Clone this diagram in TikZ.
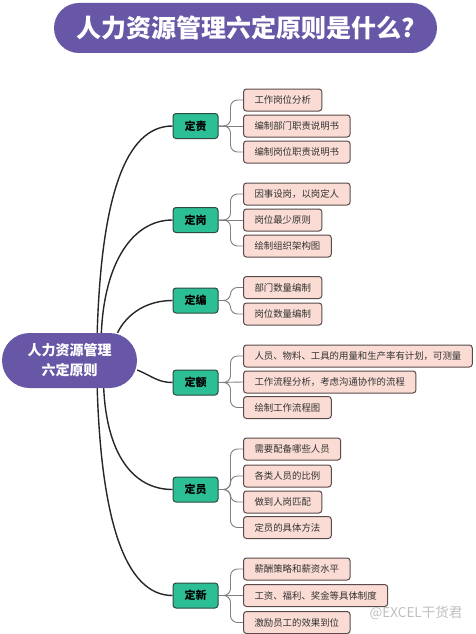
\documentclass[tikz,border=0pt]{standalone}
\usepackage{fontspec}
\setmainfont{Noto Sans CJK SC}
\usetikzlibrary{backgrounds}
\definecolor{purp}{HTML}{6757A6}
\definecolor{grn}{HTML}{2CBF96}
\definecolor{grnline}{HTML}{2E4A40}
\definecolor{pnk}{HTML}{FADCD4}
\definecolor{pnkline}{HTML}{5A4B4B}
\definecolor{txt}{HTML}{333333}
\begin{document}
\begin{tikzpicture}[x=1pt,y=-1pt,
  titlebox/.style={fill=purp, rounded corners=25pt, minimum width=383pt, minimum height=50pt, inner sep=0pt,
     text=white, font=\bfseries\fontsize{25}{28}\selectfont},
  hubbox/.style={fill=purp, rounded corners=27.5pt, minimum width=135pt, minimum height=55pt, inner sep=0pt,
     text=white, align=center, font=\bfseries\fontsize{14}{20}\selectfont},
  gbox/.style={fill=grn, draw=grnline, line width=1pt, rounded corners=3pt, minimum width=45pt, minimum height=25pt,
     inner sep=0pt, text=black, font=\bfseries\fontsize{11}{13}\selectfont},
  pbox/.style={fill=pnk, draw=pnkline, line width=1pt, rounded corners=3pt, minimum height=22pt, inner xsep=11pt,
     inner ysep=0pt, anchor=west, text=txt, font=\fontsize{9.4}{11}\selectfont},
  mainline/.style={draw=black!85, line width=1.4pt},
  forkline/.style={draw=black!50, line width=0.9pt, rounded corners=7pt},
]
\useasboundingbox (0,0) rectangle (475,634);

\node[titlebox] (title) at (245.5,28) {人力资源管理六定原则是什么?};
\node[hubbox] (hub) at (69.5,360.5) {人力资源管理\\六定原则};

\node[gbox] (g1) at (195.5,126) {定责};
\node[gbox] (g2) at (195.5,220) {定岗};
\node[gbox] (g3) at (195.5,300.5) {定编};
\node[gbox] (g4) at (195.5,382.5) {定额};
\node[gbox] (g5) at (195.5,489.5) {定员};
\node[gbox] (g6) at (195.5,595.5) {定新};

\node[pbox] (p11) at (243,100) {工作岗位分析};
\node[pbox] (p12) at (243,126) {编制部门职责说明书};
\node[pbox] (p13) at (243,152) {编制岗位职责说明书};

\node[pbox] (p21) at (243,194) {因事设岗，以岗定人};
\node[pbox] (p22) at (243,220) {岗位最少原则};
\node[pbox] (p23) at (243,246) {绘制组织架构图};

\node[pbox] (p31) at (243,287.5) {部门数量编制};
\node[pbox] (p32) at (243,314) {岗位数量编制};

\node[pbox] (p41) at (243,356) {人员、物料、工具的用量和生产率有计划，可测量};
\node[pbox] (p42) at (243,382) {工作流程分析，考虑沟通协作的流程};
\node[pbox] (p43) at (243,407.5) {绘制工作流程图};

\node[pbox] (p51) at (243,449) {需要配备哪些人员};
\node[pbox] (p52) at (243,476) {各类人员的比例};
\node[pbox] (p53) at (243,502) {做到人岗匹配};
\node[pbox] (p54) at (243,527.5) {定员的具体方法};

\node[pbox] (p61) at (243,569) {薪酬策略和薪资水平};
\node[pbox] (p62) at (243,595.5) {工资、福利、奖金等具体制度};
\node[pbox] (p63) at (243,622.5) {激励员工的效果到位};

\node[text=black!25, font=\fontsize{13.5}{15}\selectfont] (wm) at (416,613) {@EXCEL干货君};

\begin{scope}[on background layer]
\fill[white] (0,0) rectangle (475,634);
\draw[mainline] (hub.45) .. controls +(4,-133) and +(-48,0) .. (g1.west);
\draw[mainline] (hub.41) .. controls +(3,-70) and +(-40,0) .. (g2.west);
\draw[mainline] (hub.30) .. controls +(10,-20) and +(-25,0) .. (g3.west);
\draw[mainline] (hub.-8) .. controls +(15,6) and +(-15,0) .. (g4.west);
\draw[mainline] (hub.-39) .. controls +(3,65) and +(-40,0) .. (g5.west);
\draw[mainline] (hub.-45) .. controls +(4,130) and +(-48,0) .. (g6.west);

\draw[forkline] (g1.east) -- ++(12,0) |- (p11.west);
\draw[forkline] (g1.east) -- (p12.west);
\draw[forkline] (g1.east) -- ++(12,0) |- (p13.west);

\draw[forkline] (g2.east) -- ++(12,0) |- (p21.west);
\draw[forkline] (g2.east) -- (p22.west);
\draw[forkline] (g2.east) -- ++(12,0) |- (p23.west);

\draw[forkline] (g3.east) -- ++(12,0) |- (p31.west);
\draw[forkline] (g3.east) -- ++(12,0) |- (p32.west);

\draw[forkline] (g4.east) -- ++(12,0) |- (p41.west);
\draw[forkline] (g4.east) -- (p42.west);
\draw[forkline] (g4.east) -- ++(12,0) |- (p43.west);

\draw[forkline] (g5.east) -- ++(12,0) |- (p51.west);
\draw[forkline] (g5.east) -- ++(12,0) |- (p52.west);
\draw[forkline] (g5.east) -- ++(12,0) |- (p53.west);
\draw[forkline] (g5.east) -- ++(12,0) |- (p54.west);

\draw[forkline] (g6.east) -- ++(12,0) |- (p61.west);
\draw[forkline] (g6.east) -- (p62.west);
\draw[forkline] (g6.east) -- ++(12,0) |- (p63.west);
\end{scope}
\end{tikzpicture}
\end{document}
